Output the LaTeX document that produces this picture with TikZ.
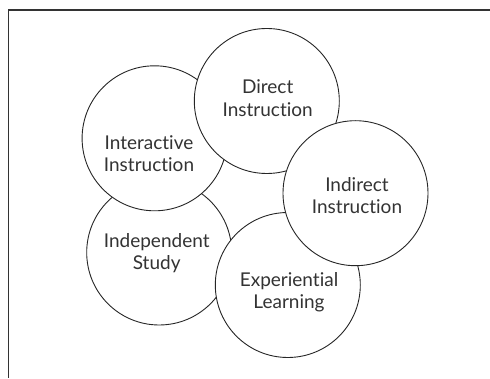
\documentclass[tikz,border=0pt]{standalone}
\usepackage{fontspec}
\setmainfont{Lato}[Ligatures=CommonOff]
\usepackage{tikz}

\tikzset{
  disc/.style={circle, draw=black!85, line width=0.9pt, fill=white, minimum size=145pt, inner sep=0pt},
  txt/.style={align=center, font=\fontsize{19}{22.5}\selectfont, text=black!80}
}

\begin{document}
\begin{tikzpicture}[x=1pt,y=-1pt]
\useasboundingbox (0,0) rectangle (490,379);
\draw[black!80, line width=1.4pt] (490,10) -- (8.5,10) -- (8.5,378);

% circles, back to front
\node[disc] (indep) at (159.2,252.5) {};
\node[disc] (exper) at (287.8,285) {};
\node[disc] (inter) at (154.6,138.3) {};
\node[disc] (direct) at (266.8,101) {};
\node[disc] (indir) at (355.5,193.2) {};

\node[txt] (indeplbl) at (156.7,253.3) {Independent\\Study};
\node[txt] (experlbl) at (289,292) {Experiential\\Learning};
\node[txt] (interlbl) at (149,153.8) {Interactive\\Instruction};
\node[txt] (directlbl) at (267.7,98) {Direct\\Instruction};
\node[txt] (indirlbl) at (357,195.8) {Indirect\\Instruction};

\end{tikzpicture}
\end{document}
